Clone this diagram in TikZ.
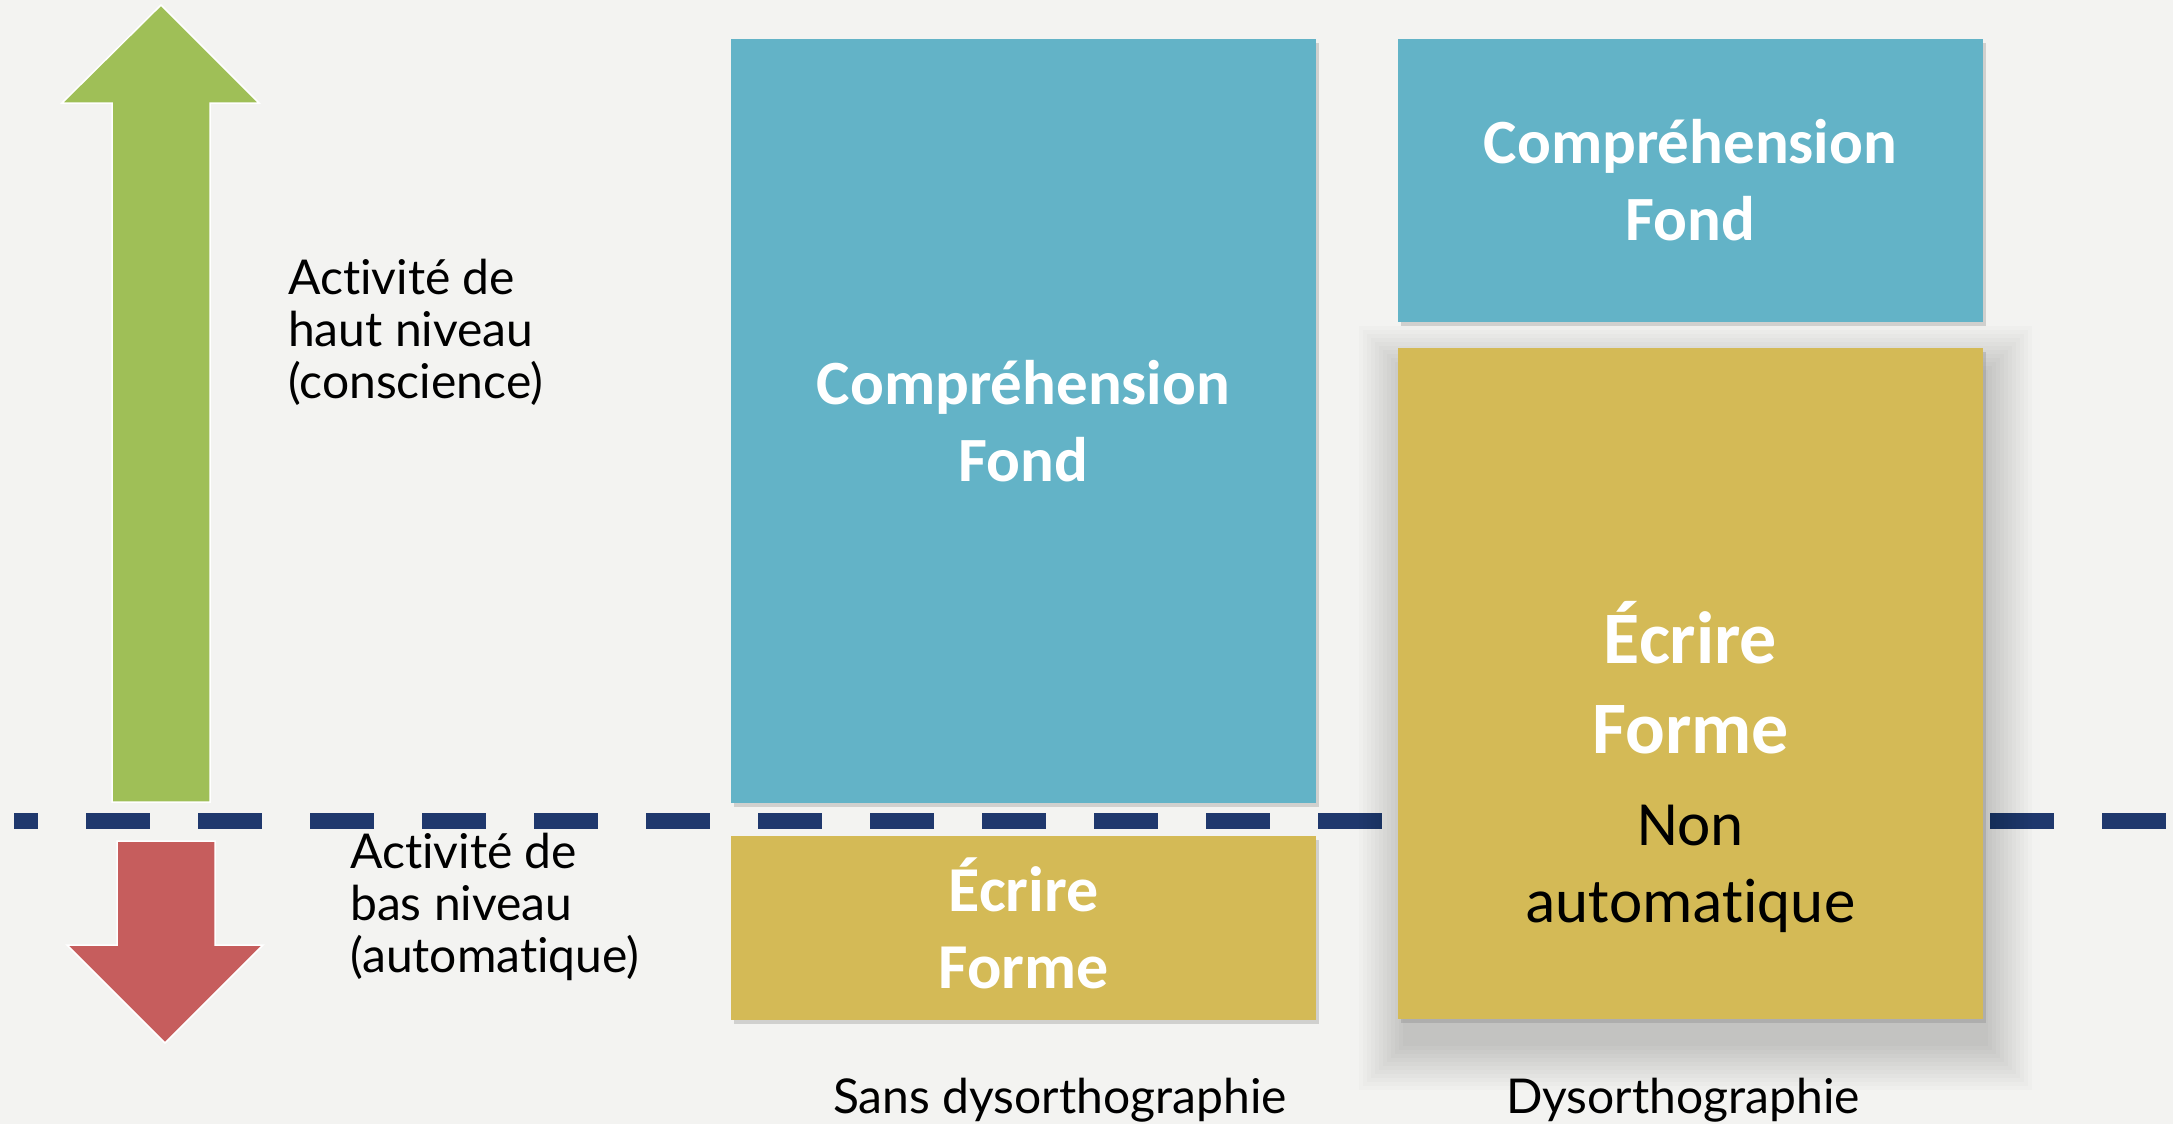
\documentclass[tikz,border=0pt]{standalone}
\usepackage{fontspec}
\setmainfont{Lato}[RawFeature={-liga,-clig,-calt}]
\newfontfamily\calfont{Carlito}[RawFeature={-liga,-clig,-calt}]
\usetikzlibrary{shadows}

\definecolor{bgcol}{HTML}{F3F3F1}
\definecolor{fondblue}{HTML}{63B3C7}
\definecolor{formeyellow}{HTML}{D4BA56}
\definecolor{upgreen}{HTML}{9FBF57}
\definecolor{downred}{HTML}{C65D5D}
\definecolor{linenavy}{HTML}{1F386D}

\begin{document}
\begin{tikzpicture}[x=1pt,y=-1pt,
    box/.style={inner sep=0pt, outer sep=0pt, minimum width=585pt,
      drop shadow={opacity=0.3, shadow xshift=3pt, shadow yshift=-4pt}},
    boxtxt/.style={text=white, align=center, inner sep=0pt, anchor=base,
      font=\calfont\bfseries\fontsize{63}{77}\selectfont},
    lbl/.style={align=left, inner sep=0pt, anchor=base west,
      font=\fontsize{48}{52}\selectfont},
    bigarrow/.style={draw=white, line width=1.5pt, line join=miter}]

    % Background and page size
    \fill[bgcol] (0,0) rectangle (2173,1124);
    \useasboundingbox (0,0) rectangle (2173,1124);

    % Dashed separation line
    \coordinate (sepL) at (14,821);
    \coordinate (sepR) at (2166,821);
    \draw[linenavy, line width=16pt, dash pattern=on 64pt off 48pt, dash phase=40pt] (sepL) -- (sepR);

    % Arrows on the left
    \fill[upgreen, bigarrow] (112,802) -- (112,103) -- (62,103) -- (161,5) -- (259,103) -- (210,103) -- (210,802) -- cycle;
    \fill[downred, bigarrow] (117,841) -- (215,841) -- (215,945) -- (263,945) -- (165,1043) -- (67,945) -- (117,945) -- cycle;

    % Level labels (placed at the baseline of their last line)
    \node[lbl] (haut) at (288,398) {Activité de\\haut niveau\\(conscience)};
    \node[lbl] (bas) at (350,972) {Activité de\\bas niveau\\(automatique)};

    % Soft shadow of the big yellow box
    \foreach \g in {0,4,...,44}
        \fill[black, opacity=0.014] (1403-\g,370-\g) rectangle (1988+\g,1046+\g);

    % Boxes: without dysorthographie
    \node[box, fill=fondblue, minimum height=764pt] (fondL) at (1023.5,421) {};
    \node[box, fill=formeyellow, minimum height=184pt] (formeL) at (1023.5,928) {};

    % Boxes: with dysorthographie
    \node[box, fill=fondblue, minimum height=283pt] (fondR) at (1690.5,180.5) {};
    \node[box, fill=formeyellow, minimum height=671pt, drop shadow={opacity=0}] (formeR) at (1690.5,683.5) {};

    % Texts inside the boxes
    \node[boxtxt] (fondLtxt) at (1023.5,481) {Compréhension\\Fond};
    \node[boxtxt, font=\calfont\bfseries\fontsize{64}{77}\selectfont] (formeLtxt) at (1023.5,988) {Écrire\\Forme};
    \node[boxtxt] (fondRtxt) at (1690.5,240) {Compréhension\\Fond};
    \node[boxtxt, font=\calfont\bfseries\fontsize{74}{90}\selectfont] (formeRtxt) at (1690.5,753) {Écrire\\Forme};
    \node[boxtxt, text=black, font=\calfont\fontsize{63}{77}\selectfont] (nonauto) at (1690.5,922) {Non\\automatique};

    % Column captions
    \node[anchor=base, inner sep=0pt, font=\fontsize{48}{52}\selectfont] (sans) at (1060,1113) {Sans dysorthographie};
    \node[anchor=base, inner sep=0pt, font=\fontsize{48}{52}\selectfont] (dys) at (1683,1113) {Dysorthographie};

\end{tikzpicture}
\end{document}
